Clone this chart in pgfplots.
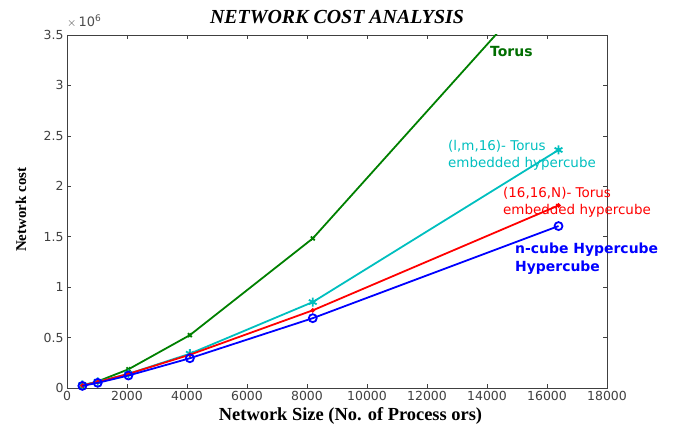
\documentclass[border=0pt]{standalone}
\usepackage{fontspec}
\setmainfont{DejaVu Sans}
\newfontfamily\tnr{Liberation Serif}
\usepackage{pgfplots}
\pgfplotsset{compat=1.18}

\definecolor{mgreen}{RGB}{0,128,0}
\definecolor{mdgreen}{RGB}{0,110,0}
\definecolor{mcyan}{RGB}{0,191,191}
\definecolor{axgray}{RGB}{64,64,64}

\begin{document}
\begin{tikzpicture}
\begin{axis}[
	at={(0bp,0bp)},
	width=540bp, height=353bp,
	scale only axis,
	xmin=0, xmax=18000,
	ymin=0, ymax=3500000,
	xtick={0,2000,...,18000},
	ytick={0,500000,1000000,1500000,2000000,2500000,3000000,3500000},
	scaled x ticks=false,
	scaled y ticks=base 10:-6,
	ytick scale label code/.code={\fontsize{13}{14}\selectfont\color{black!70}$\times$\,10\textsuperscript{6}},
	every y tick scale label/.style={at={(axis description cs:0,1)}, anchor=base west, yshift=9bp, inner sep=0pt},
	xticklabel style={/pgf/number format/1000 sep={}},
	/pgf/number format/assume math mode=true,
	tick label style={font=\fontsize{12.5}{14}\selectfont, text=black!75},
	tick align=inside, tick pos=both,
	major tick length=4bp,
	axis line style={axgray, line width=0.9pt},
	every tick/.style={axgray, line width=0.6pt},
	title={\tnr\bfseries\itshape NETWORK COST ANALYSIS},
	title style={at={(axis description cs:0.5,1)}, anchor=center, yshift=12bp, font=\fontsize{20}{22}\selectfont},
	xlabel={\tnr\bfseries Network Size (No. of Process ors)},
	xlabel style={at={(axis description cs:0.525,0)}, anchor=center, yshift=-28bp, font=\fontsize{18.5}{20}\selectfont},
	ylabel={\tnr\bfseries Network cost},
	ylabel style={at={(axis description cs:-0.0852,0.505)}, anchor=center, font=\fontsize{15}{17}\selectfont},
	clip mode=individual,
]

% Torus
\addplot [color=mgreen, line width=1.8pt, mark=x, mark size=2.8pt]
table[row sep={\\}]
{	512   23170\\
	1024  65536\\
	2048  185363\\
	4096  524288\\
	8192  1482910\\
	16384 4194304\\
};

% (l,m,16)- Torus embedded hypercube
\addplot [color=mcyan, line width=1.8pt, mark=asterisk, mark size=4.5pt]
table[row sep={\\}]
{	512   30000\\
	1024  62000\\
	2048  140000\\
	4096  340000\\
	8192  852000\\
	16384 2360000\\
};

% (16,16,N)- Torus embedded hypercube
\addplot [color=red, line width=1.8pt, mark=*, mark size=1.3pt]
table[row sep={\\}]
{	512   25000\\
	1024  60000\\
	2048  140000\\
	4096  330000\\
	8192  770000\\
	16384 1810000\\
};

% n-cube Hypercube
\addplot [color=blue, line width=1.8pt, mark=o, mark size=4pt]
table[row sep={\\}]
{	512   20736\\
	1024  51200\\
	2048  123904\\
	4096  294912\\
	8192  692224\\
	16384 1605632\\
};

\node[anchor=west, inner sep=0pt, text=mdgreen, font=\fontsize{14}{16}\selectfont\bfseries]
	at (axis cs:14100,3340000) {Torus};
\node[anchor=west, inner sep=0pt, align=left, text=mcyan, font=\fontsize{13.5}{17}\selectfont]
	at (axis cs:12700,2304000) {(l,m,16)- Torus\\embedded hypercube};
\node[anchor=west, inner sep=0pt, align=left, text=red, font=\fontsize{13.5}{17}\selectfont]
	at (axis cs:14533,1843000) {(16,16,N)- Torus\\embedded hypercube};
\node[anchor=west, inner sep=0pt, align=left, text=blue, font=\fontsize{14}{18}\selectfont\bfseries]
	at (axis cs:14933,1278000) {n-cube Hypercube\\Hypercube};

\end{axis}
\pgfresetboundingbox
\path[use as bounding box] (-67bp,-41bp) rectangle (608bp,388bp);
\end{tikzpicture}
\end{document}
